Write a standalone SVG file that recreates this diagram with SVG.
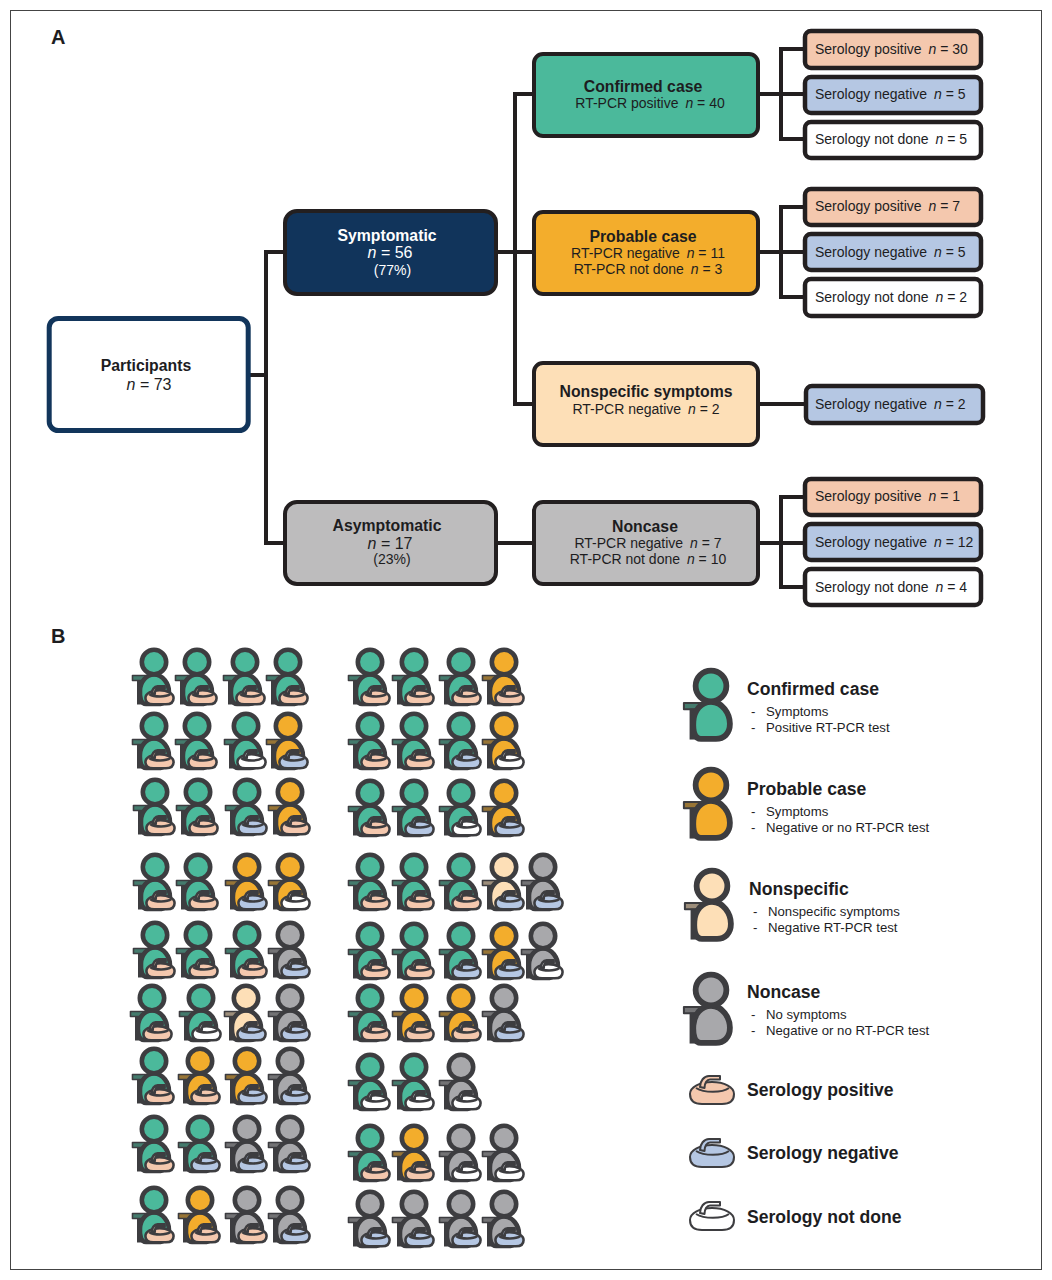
<svg xmlns="http://www.w3.org/2000/svg" width="1052" height="1280" viewBox="0 0 1052 1280">
<style>
text{font-family:"Liberation Sans",Arial,sans-serif;fill:#1d1d1f}
.b{font-weight:bold;font-size:15.8px}
.t{font-size:14px}
.n{font-size:16px}
.m{text-anchor:middle}
.w{fill:#fff}
.i{font-style:italic}
.box{stroke:#231f20;stroke-width:4}
.sb{stroke:#231f20;stroke-width:4.5}
.con{fill:none;stroke:#231f20;stroke-width:4}
.h{font-weight:bold;font-size:17.6px}
.s{font-size:13.2px}
.c{fill:#4bb99b}.p{fill:#f3ad2c}.ns{fill:#fddfb7}.g{fill:#a8a8ab}
.sp{fill:#f4c8ae}.sn{fill:#b5c7e3}.sw{fill:#fff}
</style>
<defs>
<g id="person" stroke="#3d3d40" stroke-linejoin="round">
<rect x="-21.5" y="13.5" width="21" height="5" stroke-width="1.6"/>
<rect x="-21.5" y="13.5" width="21" height="5" fill="#3d3d40" fill-opacity=".5" stroke="none"/>
<path d="M-14.5,18 V42.5" fill="none" stroke-width="5"/>
<path d="M0,12.5 C9,12.5 15,22 15,30 C15,38 10,42 4,42 L-8,42 C-13,42 -14.5,36 -14,28 C-13.5,20 -8,12.5 0,12.5 Z" stroke-width="4.6"/>
<circle cx="0" cy="0" r="12.2" stroke-width="4.6"/>
</g>
<g id="stone" stroke="#3d3d40" stroke-linejoin="round">
<path d="M-22,3 C-22,-4 -12,-9 0,-9 C12,-9 22,-4 22,3 C22,10 18,13 10,13 L-10,13 C-18,13 -22,10 -22,3 Z"/>
<path d="M-16,-3 C-8,2 10,2 17,-3" fill="none"/>
<path d="M-12,-4 C-12,-10 -8,-15 -3,-15 L8,-15 L8,-11.5 L-2,-11.5 C-5,-11.5 -7.5,-8 -7.5,-3 Z"/>
</g>
<g id="ss" stroke-width="4"><use href="#stone" transform="translate(5.5,34) scale(.64)"/></g>
</defs>
<rect x="10.5" y="10.5" width="1031" height="1259" fill="#fff" stroke="#444" stroke-width="1"/>
<text x="51" y="44" font-size="20" font-weight="bold">A</text>
<text x="51" y="643" font-size="20" font-weight="bold">B</text>

<g id="connectors" class="con">
<path d="M250,375 H266 M284,252 H266 V543 H284 M498,252 H533 M533,94 H515 V404 H533 M498,543 H533"/>
<path d="M760,94 H805 M805,49 H781 V139 H805"/>
<path d="M760,252 H805 M805,207 H781 V297 H805"/>
<path d="M760,404 H805"/>
<path d="M760,543 H805 M805,497 H781 V587 H805"/>
</g>

<g id="participants"><rect x="49.2" y="318.5" width="199" height="112" rx="9" fill="#fff" stroke="#12355b" stroke-width="5"/>
<text class="b m" x="146" y="371">Participants</text><text class="n m" x="149" y="390"><tspan class="i">n</tspan> = 73</text></g>
<g id="symptomatic"><rect class="box" x="285" y="211" width="211" height="83" rx="12" fill="#11345b"/>
<text class="b m w" x="387" y="241">Symptomatic</text><text class="n m w" x="390" y="258"><tspan class="i">n</tspan> = 56</text><text class="t m w" x="392.5" y="275">(77%)</text></g>
<g id="asymptomatic"><rect class="box" x="285" y="502" width="211" height="82" rx="12" fill="#bdbcbd"/>
<text class="b m" x="387" y="531">Asymptomatic</text><text class="n m" x="390" y="549"><tspan class="i">n</tspan> = 17</text><text class="t m" x="392" y="564">(23%)</text></g>
<g id="confirmed"><rect class="box" x="534" y="54" width="224" height="82" rx="9" fill="#4bb99b"/>
<text class="b m" x="643" y="92">Confirmed case</text><text class="t m" x="650" y="108">RT-PCR positive <tspan dx="3" class="i">n</tspan> = 40</text></g>
<g id="probable"><rect class="box" x="534" y="212" width="224" height="82" rx="9" fill="#f3ad2c"/>
<text class="b m" x="643" y="242">Probable case</text><text class="t m" x="648" y="258">RT-PCR negative <tspan dx="3" class="i">n</tspan> = 11</text><text class="t m" x="648" y="274">RT-PCR not done <tspan dx="3" class="i">n</tspan> = 3</text></g>
<g id="nonspecific"><rect class="box" x="534" y="363" width="224" height="82" rx="9" fill="#fddfb7"/>
<text class="b m" x="646" y="397">Nonspecific symptoms</text><text class="t m" x="646" y="414">RT-PCR negative <tspan dx="3" class="i">n</tspan> = 2</text></g>
<g id="noncase"><rect class="box" x="534" y="502" width="224" height="82" rx="9" fill="#bdbcbd"/>
<text class="b m" x="645" y="532">Noncase</text><text class="t m" x="648" y="548">RT-PCR negative <tspan dx="3" class="i">n</tspan> = 7</text><text class="t m" x="648" y="564">RT-PCR not done <tspan dx="3" class="i">n</tspan> = 10</text></g>

<g id="s1"><rect class="sb sp" x="805" y="31" width="176" height="37" rx="6"/><text class="t" x="815" y="53.5">Serology positive <tspan dx="3" class="i">n</tspan> = 30</text></g>
<g id="s2"><rect class="sb sn" x="805" y="77" width="176" height="36" rx="6"/><text class="t" x="815" y="98.5">Serology negative <tspan dx="3" class="i">n</tspan> = 5</text></g>
<g id="s3"><rect class="sb sw" x="805" y="122" width="176" height="36" rx="6"/><text class="t" x="815" y="143.5">Serology not done <tspan dx="3" class="i">n</tspan> = 5</text></g>
<g id="s4"><rect class="sb sp" x="805" y="189" width="176" height="36" rx="6"/><text class="t" x="815" y="211">Serology positive <tspan dx="3" class="i">n</tspan> = 7</text></g>
<g id="s5"><rect class="sb sn" x="805" y="234" width="176" height="36" rx="6"/><text class="t" x="815" y="256.5">Serology negative <tspan dx="3" class="i">n</tspan> = 5</text></g>
<g id="s6"><rect class="sb sw" x="805" y="279" width="176" height="37" rx="6"/><text class="t" x="815" y="301.5">Serology not done <tspan dx="3" class="i">n</tspan> = 2</text></g>
<g id="s7"><rect class="sb sn" x="806" y="386" width="177" height="37" rx="6"/><text class="t" x="815" y="408.5">Serology negative <tspan dx="3" class="i">n</tspan> = 2</text></g>
<g id="s8"><rect class="sb sp" x="805" y="479" width="176" height="36" rx="6"/><text class="t" x="815" y="501">Serology positive <tspan dx="3" class="i">n</tspan> = 1</text></g>
<g id="s9"><rect class="sb sn" x="805" y="524" width="176" height="36" rx="6"/><text class="t" x="815" y="546.5">Serology negative <tspan dx="3" class="i">n</tspan> = 12</text></g>
<g id="s10"><rect class="sb sw" x="805" y="569" width="176" height="36" rx="6"/><text class="t" x="815" y="591.5">Serology not done <tspan dx="3" class="i">n</tspan> = 4</text></g>

<g id="icons-left">
<g transform="translate(154,662)"><use href="#person" class="c"/><use href="#ss" class="sp"/></g>
<g transform="translate(197,662)"><use href="#person" class="c"/><use href="#ss" class="sp"/></g>
<g transform="translate(245,662)"><use href="#person" class="c"/><use href="#ss" class="sp"/></g>
<g transform="translate(288,662)"><use href="#person" class="c"/><use href="#ss" class="sp"/></g>
<g transform="translate(154,726)"><use href="#person" class="c"/><use href="#ss" class="sp"/></g>
<g transform="translate(197,726)"><use href="#person" class="c"/><use href="#ss" class="sp"/></g>
<g transform="translate(246,726)"><use href="#person" class="c"/><use href="#ss" class="sw"/></g>
<g transform="translate(288,726)"><use href="#person" class="p"/><use href="#ss" class="sn"/></g>
<g transform="translate(155,792)"><use href="#person" class="c"/><use href="#ss" class="sp"/></g>
<g transform="translate(198,792)"><use href="#person" class="c"/><use href="#ss" class="sp"/></g>
<g transform="translate(247,792)"><use href="#person" class="c"/><use href="#ss" class="sn"/></g>
<g transform="translate(290,792)"><use href="#person" class="p"/><use href="#ss" class="sp"/></g>
<g transform="translate(155,867)"><use href="#person" class="c"/><use href="#ss" class="sp"/></g>
<g transform="translate(198,867)"><use href="#person" class="c"/><use href="#ss" class="sp"/></g>
<g transform="translate(247,867)"><use href="#person" class="p"/><use href="#ss" class="sn"/></g>
<g transform="translate(290,867)"><use href="#person" class="p"/><use href="#ss" class="sw"/></g>
<g transform="translate(155,935)"><use href="#person" class="c"/><use href="#ss" class="sp"/></g>
<g transform="translate(198,935)"><use href="#person" class="c"/><use href="#ss" class="sp"/></g>
<g transform="translate(247,935)"><use href="#person" class="c"/><use href="#ss" class="sp"/></g>
<g transform="translate(290,935)"><use href="#person" class="g"/><use href="#ss" class="sn"/></g>
<g transform="translate(152,998)"><use href="#person" class="c"/><use href="#ss" class="sp"/></g>
<g transform="translate(201,998)"><use href="#person" class="c"/><use href="#ss" class="sw"/></g>
<g transform="translate(246,998)"><use href="#person" class="ns"/><use href="#ss" class="sn"/></g>
<g transform="translate(290,998)"><use href="#person" class="g"/><use href="#ss" class="sn"/></g>
<g transform="translate(154,1061)"><use href="#person" class="c"/><use href="#ss" class="sp"/></g>
<g transform="translate(200,1061)"><use href="#person" class="p"/><use href="#ss" class="sp"/></g>
<g transform="translate(247,1061)"><use href="#person" class="p"/><use href="#ss" class="sn"/></g>
<g transform="translate(290,1061)"><use href="#person" class="g"/><use href="#ss" class="sn"/></g>
<g transform="translate(154,1129)"><use href="#person" class="c"/><use href="#ss" class="sp"/></g>
<g transform="translate(200,1129)"><use href="#person" class="c"/><use href="#ss" class="sn"/></g>
<g transform="translate(247,1129)"><use href="#person" class="g"/><use href="#ss" class="sn"/></g>
<g transform="translate(290,1129)"><use href="#person" class="g"/><use href="#ss" class="sn"/></g>
<g transform="translate(154,1200)"><use href="#person" class="c"/><use href="#ss" class="sp"/></g>
<g transform="translate(200,1200)"><use href="#person" class="p"/><use href="#ss" class="sp"/></g>
<g transform="translate(247,1200)"><use href="#person" class="g"/><use href="#ss" class="sp"/></g>
<g transform="translate(290,1200)"><use href="#person" class="g"/><use href="#ss" class="sn"/></g>
</g>

<g id="icons-right">
<g transform="translate(370,662)"><use href="#person" class="c"/><use href="#ss" class="sp"/></g>
<g transform="translate(414,662)"><use href="#person" class="c"/><use href="#ss" class="sp"/></g>
<g transform="translate(461,662)"><use href="#person" class="c"/><use href="#ss" class="sp"/></g>
<g transform="translate(504,662)"><use href="#person" class="p"/><use href="#ss" class="sp"/></g>
<g transform="translate(370,726)"><use href="#person" class="c"/><use href="#ss" class="sp"/></g>
<g transform="translate(414,726)"><use href="#person" class="c"/><use href="#ss" class="sp"/></g>
<g transform="translate(461,726)"><use href="#person" class="c"/><use href="#ss" class="sn"/></g>
<g transform="translate(504,726)"><use href="#person" class="p"/><use href="#ss" class="sw"/></g>
<g transform="translate(370,793)"><use href="#person" class="c"/><use href="#ss" class="sp"/></g>
<g transform="translate(414,793)"><use href="#person" class="c"/><use href="#ss" class="sn"/></g>
<g transform="translate(461,793)"><use href="#person" class="c"/><use href="#ss" class="sw"/></g>
<g transform="translate(504,793)"><use href="#person" class="p"/><use href="#ss" class="sn"/></g>
<g transform="translate(370,867)"><use href="#person" class="c"/><use href="#ss" class="sp"/></g>
<g transform="translate(414,867)"><use href="#person" class="c"/><use href="#ss" class="sp"/></g>
<g transform="translate(461,867)"><use href="#person" class="c"/><use href="#ss" class="sp"/></g>
<g transform="translate(504,867)"><use href="#person" class="ns"/><use href="#ss" class="sn"/></g>
<g transform="translate(543,867)"><use href="#person" class="g"/><use href="#ss" class="sn"/></g>
<g transform="translate(370,936)"><use href="#person" class="c"/><use href="#ss" class="sp"/></g>
<g transform="translate(414,936)"><use href="#person" class="c"/><use href="#ss" class="sp"/></g>
<g transform="translate(461,936)"><use href="#person" class="c"/><use href="#ss" class="sn"/></g>
<g transform="translate(504,936)"><use href="#person" class="p"/><use href="#ss" class="sn"/></g>
<g transform="translate(543,936)"><use href="#person" class="g"/><use href="#ss" class="sw"/></g>
<g transform="translate(370,998)"><use href="#person" class="c"/><use href="#ss" class="sp"/></g>
<g transform="translate(414,998)"><use href="#person" class="p"/><use href="#ss" class="sp"/></g>
<g transform="translate(461,998)"><use href="#person" class="p"/><use href="#ss" class="sp"/></g>
<g transform="translate(504,998)"><use href="#person" class="g"/><use href="#ss" class="sn"/></g>
<g transform="translate(370,1067)"><use href="#person" class="c"/><use href="#ss" class="sw"/></g>
<g transform="translate(414,1067)"><use href="#person" class="c"/><use href="#ss" class="sw"/></g>
<g transform="translate(461,1067)"><use href="#person" class="g"/><use href="#ss" class="sw"/></g>
<g transform="translate(370,1138)"><use href="#person" class="c"/><use href="#ss" class="sp"/></g>
<g transform="translate(414,1138)"><use href="#person" class="p"/><use href="#ss" class="sp"/></g>
<g transform="translate(461,1138)"><use href="#person" class="g"/><use href="#ss" class="sw"/></g>
<g transform="translate(504,1138)"><use href="#person" class="g"/><use href="#ss" class="sw"/></g>
<g transform="translate(370,1204)"><use href="#person" class="g"/><use href="#ss" class="sn"/></g>
<g transform="translate(414,1204)"><use href="#person" class="g"/><use href="#ss" class="sn"/></g>
<g transform="translate(461,1204)"><use href="#person" class="g"/><use href="#ss" class="sn"/></g>
<g transform="translate(504,1204)"><use href="#person" class="g"/><use href="#ss" class="sn"/></g>
</g>

<g id="legend-confirmed"><use href="#person" class="c" transform="translate(711,686) scale(1.26)"/>
<text class="h" x="747" y="695">Confirmed case</text><text class="s" x="751" y="716">-</text><text class="s" x="766" y="716">Symptoms</text><text class="s" x="751" y="732">-</text><text class="s" x="766" y="732">Positive RT-PCR test</text></g>
<g id="legend-probable"><use href="#person" class="p" transform="translate(711,785) scale(1.26)"/>
<text class="h" x="747" y="795">Probable case</text><text class="s" x="751" y="816">-</text><text class="s" x="766" y="816">Symptoms</text><text class="s" x="751" y="832">-</text><text class="s" x="766" y="832">Negative or no RT-PCR test</text></g>
<g id="legend-nonspecific"><use href="#person" class="ns" transform="translate(712,886) scale(1.26)"/>
<text class="h" x="749" y="895">Nonspecific</text><text class="s" x="753" y="916">-</text><text class="s" x="768" y="916">Nonspecific symptoms</text><text class="s" x="753" y="932">-</text><text class="s" x="768" y="932">Negative RT-PCR test</text></g>
<g id="legend-noncase"><use href="#person" class="g" transform="translate(711,990) scale(1.26)"/>
<text class="h" x="747" y="998">Noncase</text><text class="s" x="751" y="1019">-</text><text class="s" x="766" y="1019">No symptoms</text><text class="s" x="751" y="1035">-</text><text class="s" x="766" y="1035">Negative or no RT-PCR test</text></g>
<g id="legend-pos" stroke-width="2"><use href="#stone" class="sp" transform="translate(712,1091)"/><text class="h" x="747" y="1096">Serology positive</text></g>
<g id="legend-neg" stroke-width="2"><use href="#stone" class="sn" transform="translate(712,1154)"/><text class="h" x="747" y="1159">Serology negative</text></g>
<g id="legend-nd" stroke-width="2"><use href="#stone" class="sw" transform="translate(712,1217)"/><text class="h" x="747" y="1223">Serology not done</text></g>
</svg>
